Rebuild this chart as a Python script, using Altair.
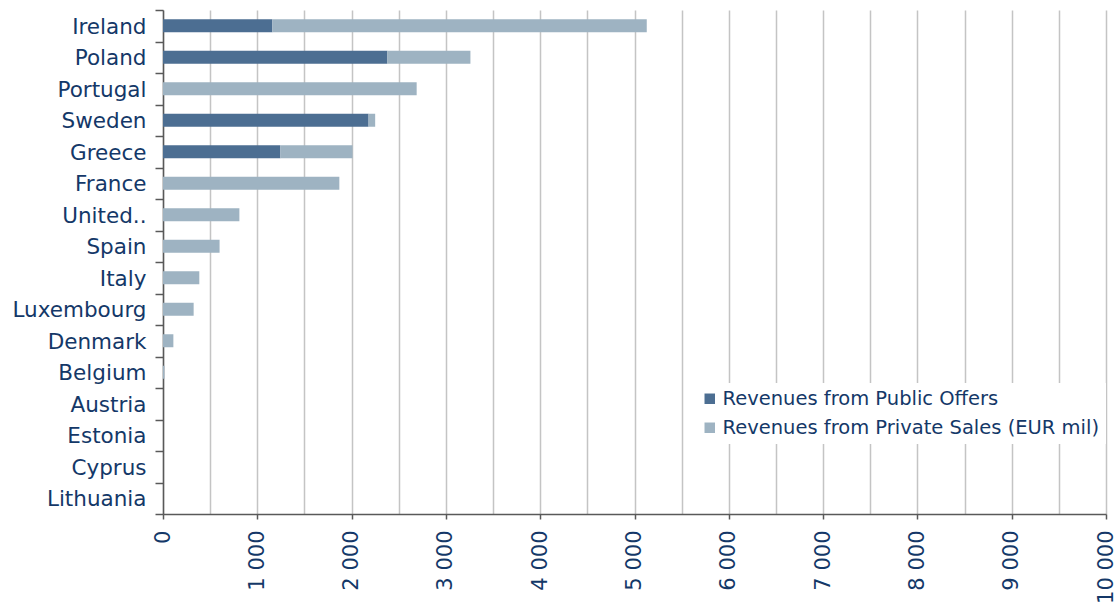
import altair as alt
import pandas as pd

countries = ["Ireland", "Poland", "Portugal", "Sweden", "Greece", "France", "United..",
             "Spain", "Italy", "Luxembourg", "Denmark", "Belgium", "Austria", "Estonia",
             "Cyprus", "Lithuania"]
public_offers = [1160, 2380, 0, 2180, 1245, 0, 0, 0, 0, 0, 0, 0, 0, 0, 0, 0]
private_sales = [3970, 880, 2690, 70, 765, 1870, 810, 600, 385, 325, 110, 15, 0, 0, 0, 0]
series = ["Revenues from Public Offers", "Revenues from Private Sales (EUR mil)"]
colors = ["#4C6E92", "#9EB3C2"]
x_ticks = list(range(0, 10001, 500))

rows = []
for c, p, s in zip(countries, public_offers, private_sales):
    rows.append({"country": c, "series": series[0], "value": p, "ord": 0})
    rows.append({"country": c, "series": series[1], "value": s, "ord": 1})
df = pd.DataFrame(rows)

txt = "#143868"
font = "DejaVu Sans"

chart = alt.Chart(df).mark_bar(size=13).encode(
    y=alt.Y("country:N", sort=countries, title=None,
            scale=alt.Scale(paddingInner=0, paddingOuter=0),
            axis=alt.Axis(tickBand="extent", labelFont=font, labelFontSize=21.5,
                          labelColor=txt, labelPadding=9, tickSize=8,
                          tickColor="#595959", domainColor="#595959",
                          domainWidth=1.5, tickWidth=1.5, grid=False,
                          labelOffset=1.5)),
    x=alt.X("value:Q", stack="zero", title=None,
            scale=alt.Scale(domain=[0, 10000], nice=False),
            axis=alt.Axis(values=x_ticks, labelAngle=-90, labelFont=font,
                          labelFontSize=21, labelColor=txt, labelPadding=11,
                          labelExpr="datum.value % 1000 === 0 ? replace(format(datum.value, ',d'), ',', ' ') : ''",
                          tickSize=5, tickColor="#595959", domainColor="#595959",
                          domainWidth=1.5, tickWidth=1.5,
                          tickOpacity={"condition": {"test": "datum.value % 1000 === 0", "value": 1}, "value": 0},
                          grid=True, gridColor="#C4C4C4", gridWidth=1.5,
                          labelOverlap=False, labelFlush=False)),
    color=alt.Color("series:N", sort=series,
                    scale=alt.Scale(domain=series, range=colors),
                    legend=alt.Legend(title=None, orient="none", legendX=531, legendY=373,
                                      fillColor="white", padding=6, symbolType="square",
                                      symbolSize=110, symbolStrokeWidth=0,
                                      labelFont=font, labelFontSize=19.5, labelColor=txt,
                                      labelLimit=500, labelOffset=3, rowPadding=8)),
    order=alt.Order("ord:Q"),
).properties(
    width=943, height=504,
    autosize=alt.AutoSizeParams(type="none"),
    padding={"left": 163, "top": 10, "right": 11, "bottom": 92},
).configure_view(stroke=None)

chart.save("out.html", embed_options={"renderer": "svg", "actions": False})
